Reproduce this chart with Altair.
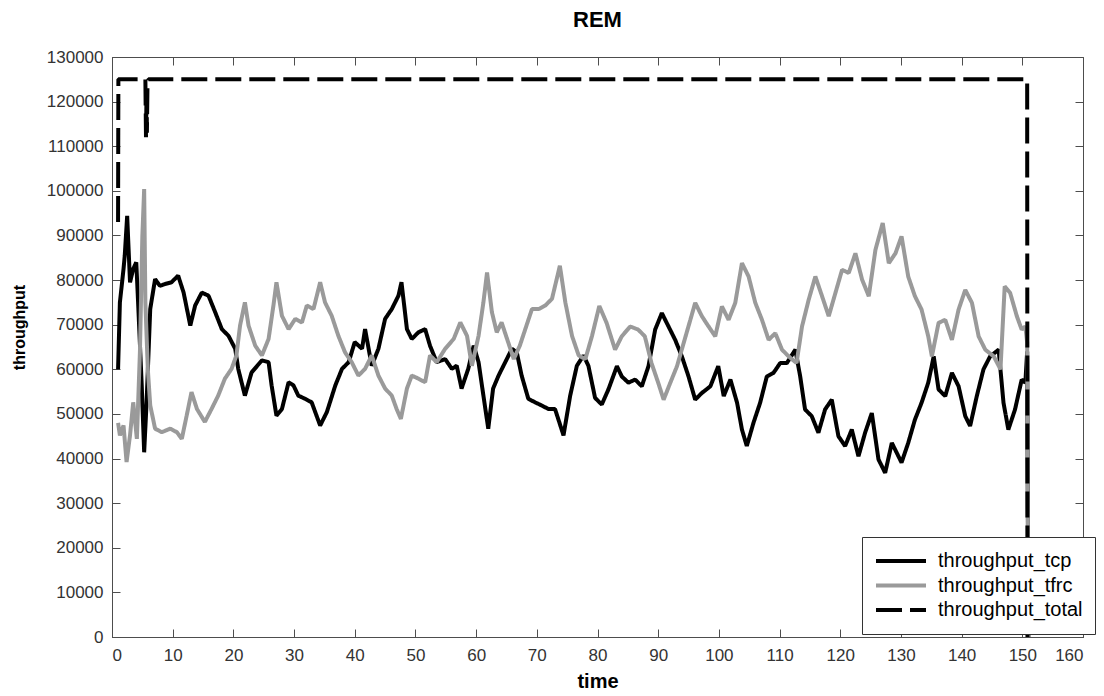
import altair as alt
import pandas as pd

FONT = "Liberation Sans"

series_names = ["throughput_tcp", "throughput_tfrc", "throughput_total"]
series_colors = ["#000000", "#9a9a9a", "#000000"]

x_ticks = list(range(0, 161, 10))
y_ticks = list(range(0, 130001, 10000))

t_tcp = [1.0, 1.3, 1.9, 2.1, 2.5, 2.97, 3.5, 4.0, 4.3, 4.9, 5.3, 5.7, 6.3, 7.1, 7.9, 8.7, 9.8,
         10.9, 11.8, 12.9, 13.7, 14.8, 15.9, 17.0, 18.1, 19.2, 20.3, 20.8, 21.9, 23.0, 24.7,
         25.8, 26.3, 27.1, 28.0, 29.1, 29.9, 30.7, 31.8, 32.9, 34.3, 35.4, 36.8, 37.9, 39.0,
         40.0, 41.2, 41.7, 42.8, 43.9, 45.0, 46.1, 47.2, 47.7, 48.6, 49.4, 50.5, 51.6, 52.4,
         53.5, 54.9, 56.0, 56.8, 57.6, 58.7, 59.6, 60.4, 61.2, 62.0, 62.8, 63.7, 64.8, 65.9,
         66.7, 67.5, 68.6, 69.7, 70.8, 71.9, 73.0, 74.4, 75.5, 76.6, 77.7, 78.5, 79.6, 80.7,
         81.8, 83.2, 84.0, 85.1, 86.2, 87.3, 88.4, 89.5, 90.6, 91.7, 92.8, 93.9, 95.0, 96.1,
         97.2, 98.6, 99.9, 100.8, 101.9, 103.0, 103.8, 104.6, 105.7, 106.8, 107.9, 109.0,
         110.1, 111.2, 112.6, 113.4, 114.2, 115.3, 116.4, 117.5, 118.6, 119.7, 120.8, 121.9,
         123.0, 124.1, 125.2, 126.3, 127.4, 128.5, 129.3, 130.1, 131.2, 132.3, 133.4, 134.5,
         135.4, 136.2, 137.3, 138.4, 139.5, 140.6, 141.4, 142.5, 143.6, 144.7, 146.1, 146.9,
         147.7, 148.8, 149.9, 150.5, 150.8, 151.0]
v_tcp = [60000, 75000, 82500, 85500, 94400, 79500, 82500, 84000, 75000, 56400, 41400, 52600,
         73500, 80200, 78700, 79100, 79500, 81000, 77200, 69800, 74300, 77200, 76500, 72800,
         69000, 67500, 64600, 60100, 54100, 59300, 62000, 61600, 56400, 49600, 51100, 57100,
         56400, 54100, 53400, 52600, 47400, 50400, 56400, 60100, 61600, 66100, 64600, 69000,
         60800, 64600, 71300, 73500, 76500, 79500, 69000, 66800, 68300, 69000, 65300, 61600,
         62300, 60100, 60800, 55700, 60100, 65300, 61600, 54100, 46700, 55700, 58600, 61600,
         64600, 63800, 58600, 53400, 52600, 51900, 51100, 51100, 45200, 54100, 60800, 63100,
         60800, 53600, 52100, 55500, 60700, 58400, 57000, 57700, 56200, 60700, 68900, 72600,
         69600, 66600, 62900, 58400, 53200, 54700, 56200, 60700, 54000, 57700, 52500, 46500,
         42800, 48000, 52500, 58400, 59200, 61400, 61400, 64400, 58400, 51000, 49500, 45800,
         51000, 53200, 45000, 42800, 46500, 40500, 45800, 50200, 39800, 36800, 43500, 41300,
         39100, 43500, 48700, 52500, 57000, 62900, 55500, 54000, 59200, 56200, 49500, 47300,
         54000, 60000, 62900, 64400, 52500, 46500, 51000, 57700, 57000, 64000, 0]

t_tfrc = [1.0, 1.3, 1.9, 2.4, 2.97, 3.5, 4.1, 4.6, 5.0, 5.3, 5.5, 5.9, 6.3, 7.1, 8.2, 9.6, 10.7,
          11.5, 12.3, 13.1, 14.0, 15.3, 16.4, 17.5, 18.6, 19.7, 20.5, 21.1, 21.9, 22.5, 23.6,
          24.7, 25.8, 26.6, 27.1, 28.0, 29.1, 30.2, 31.3, 32.1, 33.2, 34.3, 35.1, 36.2, 37.3,
          38.4, 39.5, 40.6, 41.7, 42.8, 43.9, 45.0, 46.1, 46.9, 47.6, 48.6, 49.4, 50.5, 51.6,
          52.4, 53.5, 54.9, 56.3, 57.4, 58.5, 59.3, 60.4, 61.2, 61.8, 62.6, 63.4, 64.2, 65.1,
          66.2, 67.2, 68.1, 69.2, 70.3, 71.4, 72.5, 73.8, 74.7, 75.8, 76.9, 78.0, 79.1, 80.3,
          81.5, 82.9, 84.0, 85.4, 86.7, 87.8, 88.9, 90.0, 90.9, 92.0, 93.1, 94.2, 95.3, 96.1,
          97.2, 98.3, 99.4, 100.5, 101.6, 102.7, 103.8, 104.9, 106.0, 107.1, 108.2, 109.3,
          110.4, 111.5, 112.8, 113.7, 114.8, 115.9, 117.0, 118.1, 119.2, 120.3, 121.4, 122.5,
          123.6, 124.7, 125.8, 127.0, 128.0, 129.1, 130.1, 131.2, 132.3, 133.4, 134.5, 135.1,
          136.2, 137.3, 138.4, 139.5, 140.6, 141.7, 142.8, 143.9, 145.3, 146.4, 147.1, 148.0,
          149.1, 149.9, 150.5, 150.8, 151.0]
v_tfrc = [48000, 45200, 47400, 39200, 45200, 52600, 44400, 63800, 89900, 100400, 75000, 60100,
          51900, 46700, 45900, 46700, 45900, 44400, 49600, 54900, 51100, 48200, 51100, 54100,
          57900, 60100, 63100, 69800, 75000, 69800, 65300, 63100, 66800, 74300, 79500, 72000,
          69000, 71300, 70500, 74300, 73500, 79500, 75000, 72000, 67500, 63800, 61600, 58600,
          60100, 63100, 58600, 55700, 54100, 51100, 48900, 55700, 58600, 57900, 57100, 63100,
          61600, 64600, 66800, 70500, 67500, 60800, 67500, 75000, 81700, 72800, 68300, 70500,
          66800, 62300, 65300, 69000, 73500, 73500, 74300, 75800, 83200, 75000, 67500, 63100,
          62300, 67500, 74200, 70400, 64400, 67400, 69600, 68900, 67400, 61400, 57000, 53200,
          57000, 60700, 65900, 71100, 74900, 71900, 69600, 67400, 74100, 71100, 74900, 83800,
          80800, 74900, 71100, 66600, 68100, 64400, 62900, 61400, 69600, 75600, 80800, 76400,
          71900, 77100, 82300, 81600, 86000, 80100, 76400, 86800, 92800, 83800, 86000, 89800,
          80800, 76400, 73400, 67400, 62900, 70400, 71100, 66600, 73400, 77800, 74900, 67400,
          64400, 62900, 60000, 78600, 77100, 71900, 68900, 69600, 66000, 0]

t_total = [1.0, 1.05, 5.5, 5.6, 5.7, 5.75, 5.85, 6.0, 150.8, 150.85]
v_total = [93000, 125000, 125000, 112000, 123000, 113000, 124000, 125000, 125000, 0]

rows = []
for name, ts, vs in zip(series_names, [t_tcp, t_tfrc, t_total], [v_tcp, v_tfrc, v_total]):
    for i, (t, v) in enumerate(zip(ts, vs)):
        rows.append({"series": name, "time": t, "throughput": v, "idx": i})
df = pd.DataFrame(rows)

W, H = 971, 580
x_scale = alt.Scale(domain=[0, 160], nice=False, zero=False)
y_scale = alt.Scale(domain=[0, 130000], nice=False)

AX_COLOR = "#4d4d4d"
LBL_COLOR = "#333333"

legend_cfg = dict(
    title=None, orient="none", legendX=750, legendY=480,
    strokeColor="#333333", fillColor="white", padding=12,
    symbolType="stroke", symbolSize=2500, symbolStrokeWidth=2,
    labelFont=FONT, labelFontSize=20, labelColor="black", labelOffset=10,
    clipHeight=24, rowPadding=0.5,
)

lines = alt.Chart(df).mark_line(strokeJoin="bevel").encode(
    x=alt.X("time:Q", scale=x_scale,
            axis=alt.Axis(values=x_ticks, format="d", title="time", orient="bottom",
                          ticks=False, tickSize=0, labelPadding=10,
                          titleX=485.5, titleY=50, titleBaseline="alphabetic",
                          titleFont=FONT, titleFontSize=20, titleFontWeight="bold",
                          titleColor="black")),
    y=alt.Y("throughput:Q", scale=y_scale,
            axis=alt.Axis(values=y_ticks, format="d", title="throughput", orient="left",
                          ticks=False, tickSize=0, labelPadding=9,
                          titleX=-88, titleY=270, titleAngle=270,
                          titleAlign="center", titleBaseline="alphabetic",
                          titleFont=FONT, titleFontSize=16, titleFontWeight="bold",
                          titleColor="black")),
    color=alt.Color("series:N", scale=alt.Scale(domain=series_names, range=series_colors),
                    legend=alt.Legend(**legend_cfg)),
    strokeDash=alt.StrokeDash("series:N",
                              scale=alt.Scale(domain=series_names,
                                              range=[[1, 0], [1, 0], [26, 8]]),
                              legend=alt.Legend(**legend_cfg)),
    strokeWidth=alt.StrokeWidth("series:N",
                                scale=alt.Scale(domain=series_names, range=[4, 4, 2.5]),
                                legend=None),
    order="idx:Q",
)

# inward ticks on bottom (x, top-oriented axis moved down) and left (y, right-oriented axis moved left)
ticks_a = alt.Chart(df).mark_line(opacity=0).encode(
    x=alt.X("time:Q", scale=x_scale,
            axis=alt.Axis(values=x_ticks, orient="top", offset=-H, labels=False, title=None,
                          domain=False, tickSize=8)),
    y=alt.Y("throughput:Q", scale=y_scale,
            axis=alt.Axis(values=y_ticks, orient="right", offset=-W, labels=False, title=None,
                          domain=False, tickSize=8)),
    detail="series:N",
    order="idx:Q",
)

# inward ticks on top (x, bottom-oriented axis moved up) and right (y, left-oriented axis moved right)
ticks_b = alt.Chart(df).mark_line(opacity=0).encode(
    x=alt.X("time:Q", scale=x_scale,
            axis=alt.Axis(values=x_ticks, orient="bottom", offset=-H, labels=False, title=None,
                          domain=False, tickSize=8)),
    y=alt.Y("throughput:Q", scale=y_scale,
            axis=alt.Axis(values=y_ticks, orient="left", offset=-W, labels=False, title=None,
                          domain=False, tickSize=8)),
    detail="series:N",
    order="idx:Q",
)

chart = alt.layer(ticks_a, ticks_b, lines).resolve_axis(
    x="independent", y="independent"
).properties(
    width=W, height=H,
    title=alt.TitleParams("REM", font=FONT, fontSize=22, fontWeight="bold", color="black",
                          anchor="middle", offset=-1, baseline="alphabetic"),
    autosize=alt.AutoSizeParams(type="none"),
    padding={"left": 112, "top": 57, "right": 21, "bottom": 59},
).configure_view(stroke=AX_COLOR, strokeWidth=1).configure_axis(
    grid=False, domainColor=AX_COLOR, tickColor=AX_COLOR, labelColor=LBL_COLOR,
    labelFont=FONT, labelFontSize=17, domainWidth=1, tickWidth=1,
)

chart.save("out.html", embed_options={"renderer": "svg", "actions": False})
